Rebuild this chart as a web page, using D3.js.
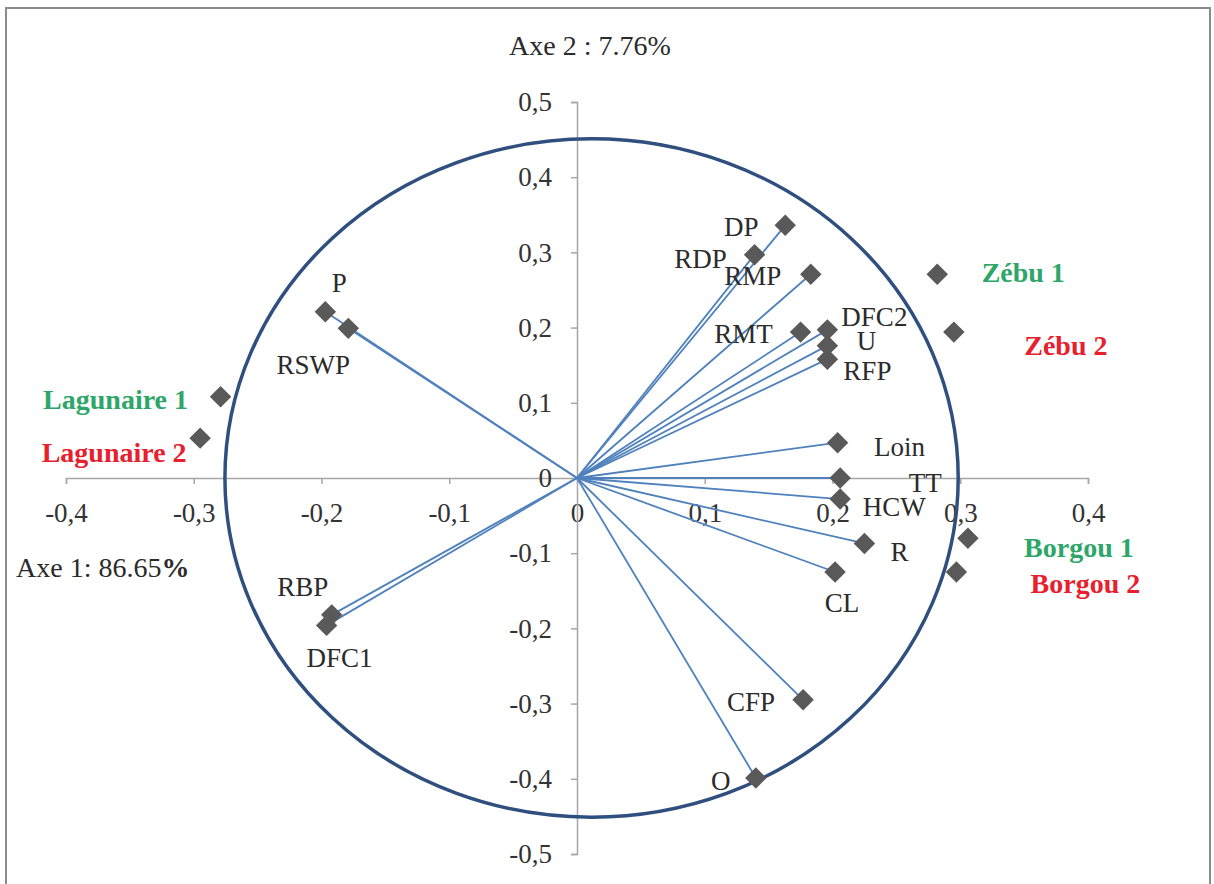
<!DOCTYPE html>
<html>
<head>
<meta charset="utf-8">
<script src="https://cdn.jsdelivr.net/npm/d3@7"></script>
<style>
  body { margin: 0; background: #fff; }
  svg text { font-family: "Liberation Serif", "Times New Roman", serif; }
</style>
</head>
<body>
<svg id="chart" width="1214" height="884"></svg>
<script>
// variables (correlation circle)
var varNames = ['DP', 'RDP', 'RMP', 'RMT', 'DFC2', 'U', 'RFP', 'Loin', 'TT', 'HCW', 'R', 'CL', 'CFP', 'O', 'P', 'RSWP', 'RBP', 'DFC1'];
var varAxe1  = [0.163, 0.139, 0.183, 0.175, 0.196, 0.196, 0.196, 0.204, 0.206, 0.206, 0.225, 0.202, 0.177, 0.140, -0.197, -0.179, -0.192, -0.196];
var varAxe2  = [0.336, 0.297, 0.271, 0.194, 0.197, 0.176, 0.158, 0.047, 0.000, -0.028, -0.087, -0.125, -0.295, -0.399, 0.221, 0.199, -0.182, -0.196];

// individuals
var indNames = ['Lagunaire 1', 'Lagunaire 2', 'Zébu 1', 'Zébu 2', 'Borgou 1', 'Borgou 2'];
var indAxe1  = [-0.279, -0.295, 0.282, 0.295, 0.306, 0.297];
var indAxe2  = [0.108, 0.053, 0.271, 0.194, -0.080, -0.125];
var indRep   = [1, 2, 1, 2, 1, 2];

var xTicks = [-0.4, -0.3, -0.2, -0.1, 0, 0.1, 0.2, 0.3, 0.4];
var yTicks = [-0.5, -0.4, -0.3, -0.2, -0.1, 0, 0.1, 0.2, 0.3, 0.4, 0.5];

// label placement (pixels from the marker)
var labelPos = {
  'DP': [-44, 2], 'RDP': [-54, 4], 'RMP': [-58, 2], 'RMT': [-57, 2],
  'DFC2': [47, -13], 'U': [39, -5], 'RFP': [40, 12], 'Loin': [62, 4],
  'TT': [85, 5], 'HCW': [54, 8], 'R': [35, 9], 'CL': [7, 31],
  'CFP': [-52, 2], 'O': [-35, 3], 'P': [14, -29], 'RSWP': [-35, 37],
  'RBP': [-29, -28], 'DFC1': [13, 33],
  'Lagunaire 1': [-105, 3], 'Lagunaire 2': [-86, 14], 'Zébu 1': [86, -2],
  'Zébu 2': [112, 13], 'Borgou 1': [111, 9], 'Borgou 2': [129, 11]
};

var svg = d3.select('#chart');

svg.append('rect')
  .attr('x', 6).attr('y', 8)
  .attr('width', 1204).attr('height', 900)
  .attr('fill', '#fff')
  .attr('stroke', '#8c8c8c')
  .attr('stroke-width', 2);

var x = d3.scaleLinear().domain([-0.4, 0.4]).range([66, 1088]);
var y = d3.scaleLinear().domain([-0.5, 0.5]).range([854, 102]);

var fmt = function (d) {
  if (Math.abs(d) < 1e-9) return '0';
  return d3.format('.1f')(d).replace('−', '-').replace('.', ',');
};

// axes
var xAxis = svg.append('g')
  .attr('transform', 'translate(0,' + y(0) + ')')
  .call(d3.axisBottom(x).tickValues(xTicks).tickFormat(fmt).tickSize(6).tickPadding(19));

var yAxis = svg.append('g')
  .attr('transform', 'translate(' + x(0) + ',0)')
  .call(d3.axisLeft(y).tickValues(yTicks).tickFormat(fmt).tickSize(6).tickPadding(19));

[xAxis, yAxis].forEach(function (a) {
  a.selectAll('path, line').attr('stroke', '#a6a6a6').attr('stroke-width', 1.5);
  a.selectAll('text')
    .attr('fill', '#333')
    .style('font-size', '27px')
    .style('font-family', '"Liberation Serif", serif');
});

// correlation ellipse
var ellCx = 0.0114, ellRx = 0.287, ellRy = 0.451;
svg.append('ellipse')
  .attr('cx', x(ellCx)).attr('cy', y(0))
  .attr('rx', x(ellRx) - x(0)).attr('ry', y(0) - y(ellRy))
  .attr('fill', 'none')
  .attr('stroke', '#2f4f7f')
  .attr('stroke-width', 3.5);

var vars = varNames.map(function (n, i) { return {name: n, a1: varAxe1[i], a2: varAxe2[i]}; });
var inds = indNames.map(function (n, i) { return {name: n, a1: indAxe1[i], a2: indAxe2[i], rep: indRep[i]}; });

// vectors from origin
svg.append('g').selectAll('line')
  .data(vars).enter().append('line')
  .attr('x1', x(0)).attr('y1', y(0))
  .attr('x2', function (d) { return x(d.a1); })
  .attr('y2', function (d) { return y(d.a2); })
  .attr('stroke', '#4f81bd')
  .attr('stroke-width', 1.8);

var diamond = d3.symbol().type(d3.symbolSquare).size(230);

svg.append('g').selectAll('path')
  .data(vars.concat(inds)).enter().append('path')
  .attr('d', diamond)
  .attr('transform', function (d) { return 'translate(' + x(d.a1) + ',' + y(d.a2) + ') rotate(45)'; })
  .attr('fill', '#595959');

svg.append('g').selectAll('text')
  .data(vars).enter().append('text')
  .attr('x', function (d) { return x(d.a1) + labelPos[d.name][0]; })
  .attr('y', function (d) { return y(d.a2) + labelPos[d.name][1]; })
  .attr('text-anchor', 'middle')
  .attr('dominant-baseline', 'central')
  .attr('fill', '#2b2b2b')
  .style('font-size', '27px')
  .text(function (d) { return d.name; });

svg.append('g').selectAll('text')
  .data(inds).enter().append('text')
  .attr('x', function (d) { return x(d.a1) + labelPos[d.name][0]; })
  .attr('y', function (d) { return y(d.a2) + labelPos[d.name][1]; })
  .attr('text-anchor', 'middle')
  .attr('dominant-baseline', 'central')
  .attr('fill', function (d) { return d.rep === 1 ? '#2ea66a' : '#e8202e'; })
  .style('font-size', '28px')
  .style('font-weight', 'bold')
  .text(function (d) { return d.name; });

// axis titles
svg.append('text')
  .attr('x', 590).attr('y', 45)
  .attr('text-anchor', 'middle')
  .attr('dominant-baseline', 'central')
  .attr('fill', '#2b2b2b')
  .style('font-size', '28px')
  .text('Axe 2 : 7.76%');

var t1 = svg.append('text')
  .attr('x', 16).attr('y', 567)
  .attr('dominant-baseline', 'central')
  .attr('fill', '#2b2b2b')
  .style('font-size', '28px');
t1.append('tspan').text('Axe 1: 86.65');
t1.append('tspan').style('font-weight', 'bold').text('%');
</script>
</body>
</html>
